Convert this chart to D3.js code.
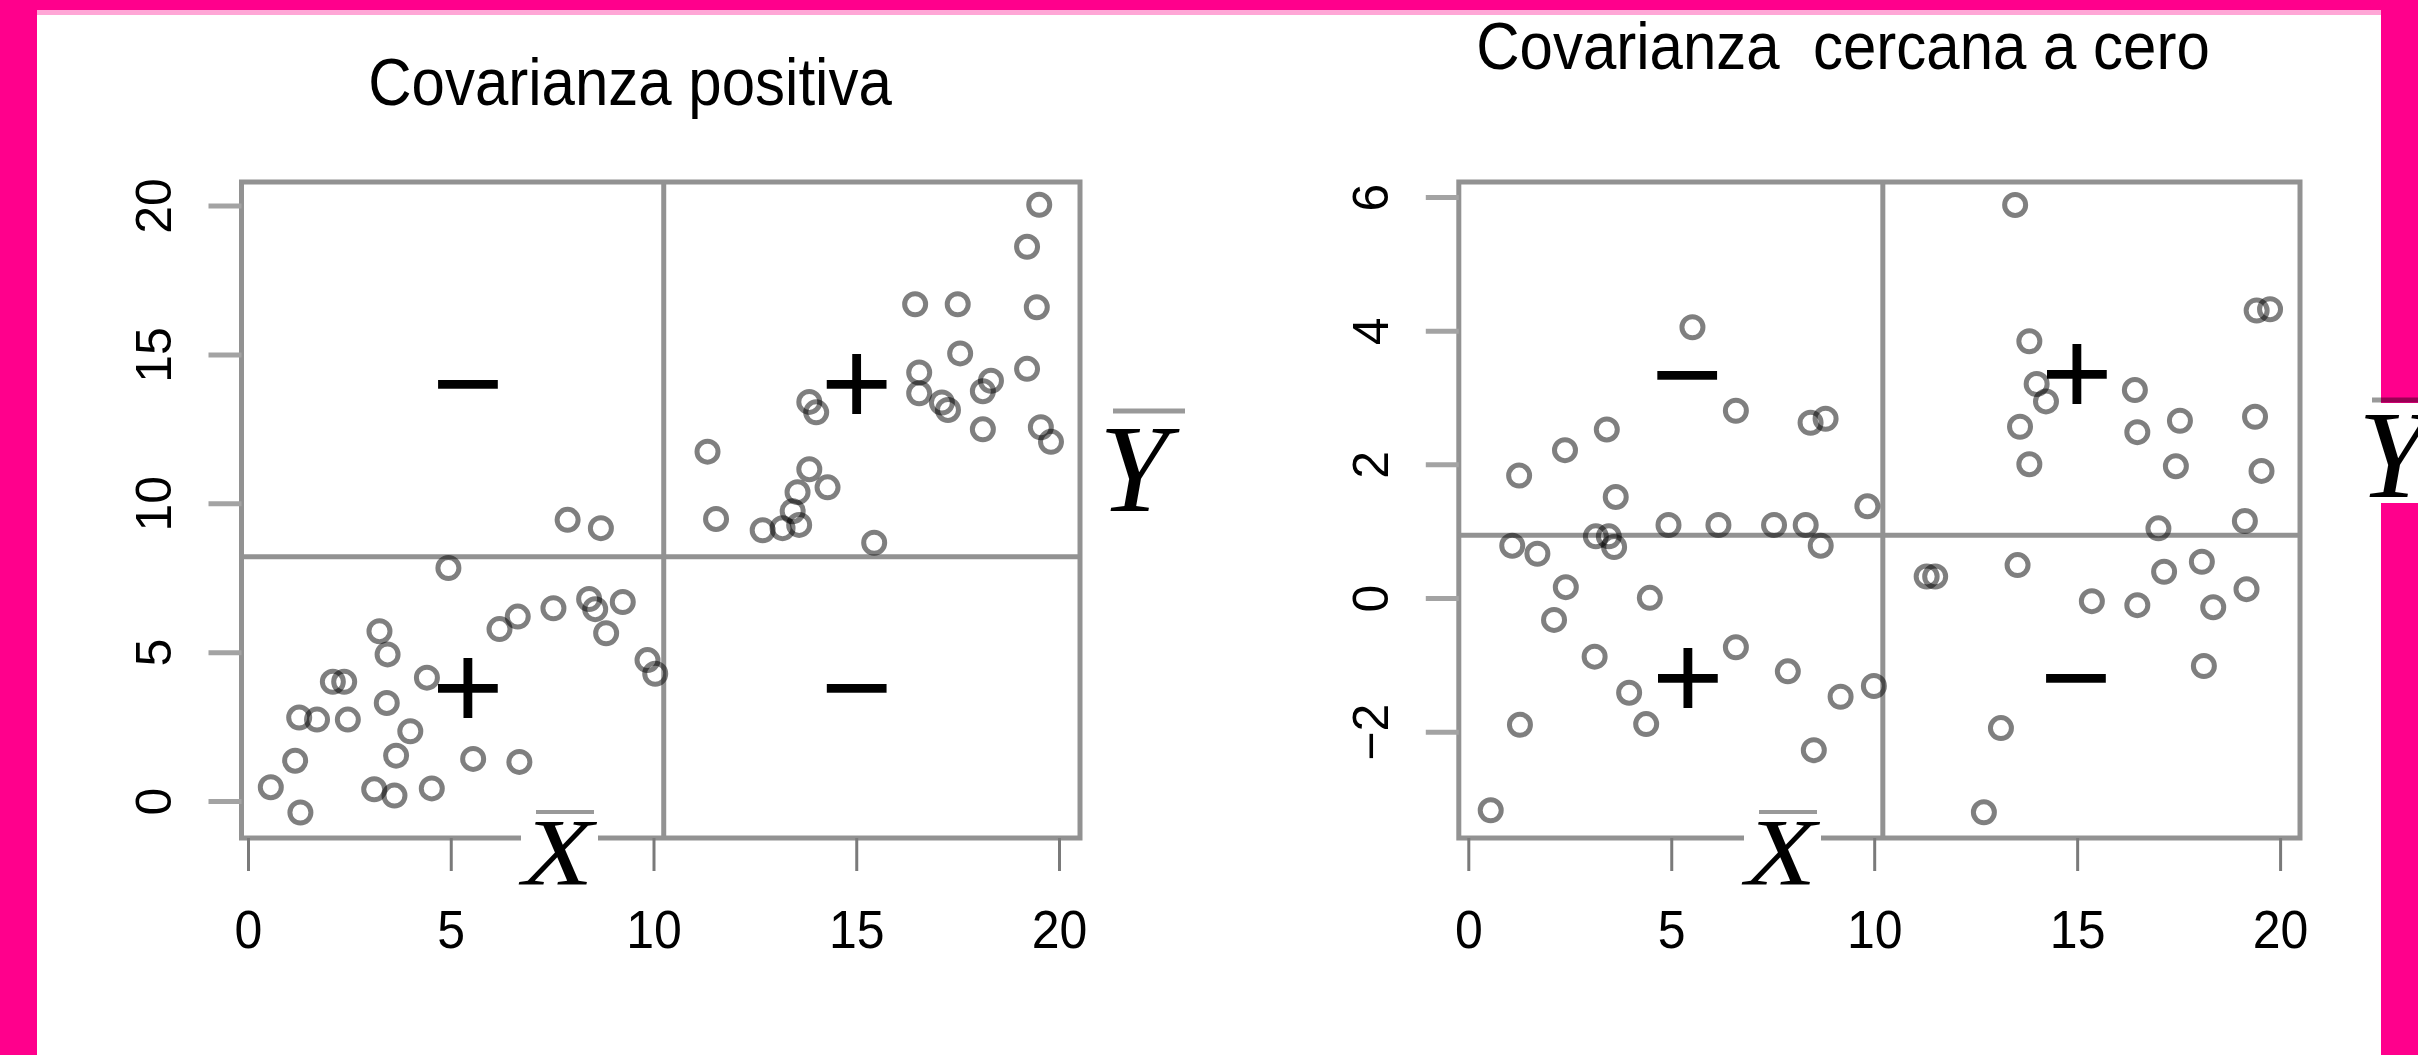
<!DOCTYPE html>
<meta charset="utf-8">
<script src="https://cdn.jsdelivr.net/npm/d3@7/dist/d3.min.js"></script>
<style>
body { margin: 0; background: #fff; }
svg { display: block; }
text { fill: #000; }
text.title { font: 60px "Liberation Sans", Arial, sans-serif; white-space: pre; }
text.tick { font: 50px "Liberation Sans", Arial, sans-serif; }
text.sign { font: 123px "Liberation Sans", Arial, sans-serif; }
text.meanlab { font: italic 125px "Liberation Serif", "Times New Roman", serif; }
</style>
<body>
<script>

// ---- data ----
var xTicks = [0, 5, 10, 15, 20];
var posTicks = [0, 5, 10, 15, 20];
var zeroTicks = [-2, 0, 2, 4, 6];

var titles = ["Covarianza positiva", "Covarianza  cercana a cero"];

// positive covariance panel
var posX = [0.55, 1.28, 1.15, 1.25, 1.69, 2.45, 2.08, 2.36, 3.10, 3.60, 4.52, 3.64, 3.99, 3.41,
  3.23, 3.43, 4.40, 5.54, 6.68, 4.93, 6.19, 6.64, 7.52, 8.40, 8.55, 9.23, 8.82, 9.84, 10.03,
  7.87, 8.69,
  11.32, 11.53, 12.68, 13.17, 13.58, 13.42, 13.54, 13.83, 14.28, 13.83, 14.0, 15.43, 16.54,
  16.54, 17.1, 17.25, 17.55, 16.44, 17.49, 18.31, 18.11, 18.11, 19.20, 19.44, 19.20, 19.50,
  19.54, 19.79];
var posY = [0.48, -0.37, 1.37, 2.82, 2.75, 2.75, 4.02, 4.02, 0.41, 0.20, 0.44, 1.54, 2.36, 3.31,
  5.72, 4.94, 4.16, 1.43, 1.33, 7.84, 5.79, 6.21, 6.49, 6.80, 6.46, 6.70, 5.65, 4.75, 4.29,
  9.46, 9.18,
  11.75, 9.49, 9.11, 9.18, 9.29, 9.75, 10.39, 11.16, 10.55, 13.42, 13.07, 8.69, 14.41,
  13.71, 13.4, 13.15, 15.05, 16.70, 16.70, 14.13, 13.78, 12.50, 14.53, 16.60, 18.63, 20.04,
  12.57, 12.08];

// near-zero covariance panel
var zeroX = [0.54, 1.07, 1.24, 1.26, 1.69, 2.10, 2.37, 2.39, 3.10, 3.13, 3.45, 3.58, 3.40, 3.62,
  3.95, 4.37, 4.46, 4.92, 5.51, 6.15, 6.58, 6.58, 7.52, 7.86, 8.30, 8.42, 8.79, 8.67, 8.50,
  9.16, 9.82, 9.98,
  11.28, 11.49, 12.69, 13.11, 13.46, 13.52, 13.58, 13.81, 13.81, 13.99, 14.22, 15.35, 16.41,
  16.47, 16.47, 16.99, 17.13, 17.42, 17.52, 18.06, 18.11, 18.34, 19.12, 19.16, 19.37, 19.41,
  19.74, 19.53];
var zeroY = [-3.17, 0.79, 1.84, -1.89, 0.67, -0.32, 2.22, 0.17, -0.87, 0.93, 0.93, 0.77, 2.53, 1.52,
  -1.41, -1.88, 0.01, 1.10, 4.06, 1.10, 2.81, -0.73, 1.10, -1.09, 1.10, 2.63, 2.69, 0.79, -2.27,
  -1.47, 1.38, -1.31,
  0.33, 0.33, -3.20, -1.94, 5.89, 0.50, 2.57, 3.85, 2.01, 3.21, 2.95, -0.04, 3.12,
  2.49, -0.10, 1.05, 0.40, 1.98, 2.66, 0.55, -1.01, -0.13, 1.16, 0.14, 2.72, 4.31,
  4.33, 1.91];

// means (reference lines)
var meanX = [10.24, 10.2];
var meanY = [8.22, 0.945];

// quadrant signs: label, x, y
var signText = ["\u2212", "+", "+", "\u2212"];
var posSignX = [5.41, 15.0, 5.41, 15.0];
var posSignY = [14.1, 14.1, 3.88, 3.88];
var zeroSignX = [5.38, 14.98, 5.40, 14.96];
var zeroSignY = [3.38, 3.39, -1.15, -1.15];

// ---- layout ----
var width = 2418, height = 1055;

var panels = [
  {title: titles[0], tx: 630, ty: 105, xs: [248.5, 1059.5], ys: [801.5, 206], yDom: [0, 20],
   box: [241.5, 182, 1080, 838], yTicks: posTicks, px: posX, py: posY,
   sx: posSignX, sy: posSignY, mx: meanX[0], my: meanY[0],
   xbarX: 558, ybarX: 1099, ybarBase: 511, ybarBar: [1113, 1185, 411]},
  {title: titles[1], tx: 1843, ty: 69, xs: [1468.8, 2280.6], ys: [598.5, 197.6], yDom: [0, 6],
   box: [1458.8, 182, 2300, 838], yTicks: zeroTicks, px: zeroX, py: zeroY,
   sx: zeroSignX, sy: zeroSignY, mx: meanX[1], my: meanY[1],
   xbarX: 1781, ybarX: 2358, ybarBase: 497, ybarBar: [2372, 2420, 400]}
];

var svg = d3.select("body").append("svg")
    .attr("width", width)
    .attr("height", height);

svg.append("rect").attr("width", width).attr("height", height).attr("fill", "#fff");

var lineCol = "#929292";

panels.forEach(function(p) {
  var x = d3.scaleLinear().domain([0, 20]).range(p.xs);
  var y = d3.scaleLinear().domain(p.yDom).range(p.ys);
  var g = svg.append("g");
  var b = p.box;

  // title
  g.append("text")
    .attr("class", "title")
    .attr("text-anchor", "middle")
    .attr("transform", "translate(" + p.tx + "," + p.ty + ") scale(1,1.1)")
    .text(p.title);

  // box
  g.append("rect")
    .attr("x", b[0]).attr("y", b[1])
    .attr("width", b[2] - b[0]).attr("height", b[3] - b[1])
    .attr("fill", "none")
    .attr("stroke", lineCol)
    .attr("stroke-width", 5);

  // mean lines
  g.append("line")
    .attr("x1", x(p.mx)).attr("x2", x(p.mx))
    .attr("y1", b[1]).attr("y2", b[3])
    .attr("stroke", lineCol).attr("stroke-width", 5);
  g.append("line")
    .attr("x1", b[0]).attr("x2", b[2])
    .attr("y1", y(p.my)).attr("y2", y(p.my))
    .attr("stroke", lineCol).attr("stroke-width", 5);

  // x axis ticks + labels
  g.selectAll(".xt").data(xTicks).enter().append("line")
    .attr("x1", d => x(d)).attr("x2", d => x(d))
    .attr("y1", b[3]).attr("y2", b[3] + 33)
    .attr("stroke", "#7a7a7a").attr("stroke-width", 3);
  g.selectAll(".xl").data(xTicks).enter().append("text")
    .attr("class", "tick")
    .attr("text-anchor", "middle")
    .attr("transform", d => "translate(" + x(d) + ",948) scale(1,1.09)")
    .text(d => d);

  // y axis ticks + labels
  g.selectAll(".yt").data(p.yTicks).enter().append("line")
    .attr("x1", b[0] - 33).attr("x2", b[0])
    .attr("y1", d => y(d)).attr("y2", d => y(d))
    .attr("stroke", "#a3a3a3").attr("stroke-width", 5);
  g.selectAll(".yl").data(p.yTicks).enter().append("text")
    .attr("class", "tick")
    .attr("text-anchor", "middle")
    .attr("transform", d => "translate(" + (b[0] - 71) + "," + y(d) + ") rotate(-90)")
    .text(d => d < 0 ? "\u2212" + Math.abs(d) : d);

  // points
  g.selectAll("circle").data(p.px).enter().append("circle")
    .attr("cx", d => x(d))
    .attr("cy", (d, i) => y(p.py[i]))
    .attr("r", 10.5)
    .attr("fill", "none")
    .attr("stroke", "#000")
    .attr("stroke-opacity", 0.5)
    .attr("stroke-width", 5);

  // quadrant signs
  g.selectAll(".sign").data(signText).enter().append("text")
    .attr("class", "sign")
    .attr("text-anchor", "middle")
    .attr("x", (d, i) => x(p.sx[i]))
    .attr("y", (d, i) => y(p.sy[i]) + 0.353 * 123)
    .text(d => d);

  // X bar label (white patch breaks the box line)
  g.append("rect")
    .attr("x", p.xbarX - 37).attr("y", 826)
    .attr("width", 77).attr("height", 24)
    .attr("fill", "#fff");
  g.append("line")
    .attr("x1", p.xbarX - 22).attr("x2", p.xbarX + 36)
    .attr("y1", 812).attr("y2", 812)
    .attr("stroke", "#999").attr("stroke-width", 4);
  g.append("text")
    .attr("class", "meanlab")
    .attr("text-anchor", "middle")
    .attr("transform", "translate(" + p.xbarX + ",885) scale(1,0.82)")
    .style("font-size", "116px")
    .text("X");
});

// pink frame
var pink = "#ff008c";
svg.append("rect").attr("x", 0).attr("y", 0).attr("width", width).attr("height", 10).attr("fill", pink);
svg.append("rect").attr("x", 37).attr("y", 10).attr("width", 2344).attr("height", 5).attr("fill", "#ffa6d6");
svg.append("rect").attr("x", 0).attr("y", 0).attr("width", 37).attr("height", height).attr("fill", pink);
svg.append("rect").attr("x", 2381).attr("y", 0).attr("width", 37).attr("height", height).attr("fill", pink);

// Y bar labels (drawn last, on a white patch over the frame)
panels.forEach(function(p) {
  svg.append("rect")
    .attr("x", p.ybarX + 4).attr("y", p.ybarBase - 94)
    .attr("width", 80).attr("height", 100)
    .attr("fill", "#fff");
  svg.append("line")
    .attr("x1", p.ybarBar[0]).attr("x2", p.ybarBar[1])
    .attr("y1", p.ybarBar[2]).attr("y2", p.ybarBar[2])
    .attr("stroke", "#000").attr("stroke-opacity", 0.4).attr("stroke-width", 5);
  svg.append("text")
    .attr("class", "meanlab")
    .attr("x", p.ybarX)
    .attr("y", p.ybarBase)
    .text("Y");
});

</script>
</body>
